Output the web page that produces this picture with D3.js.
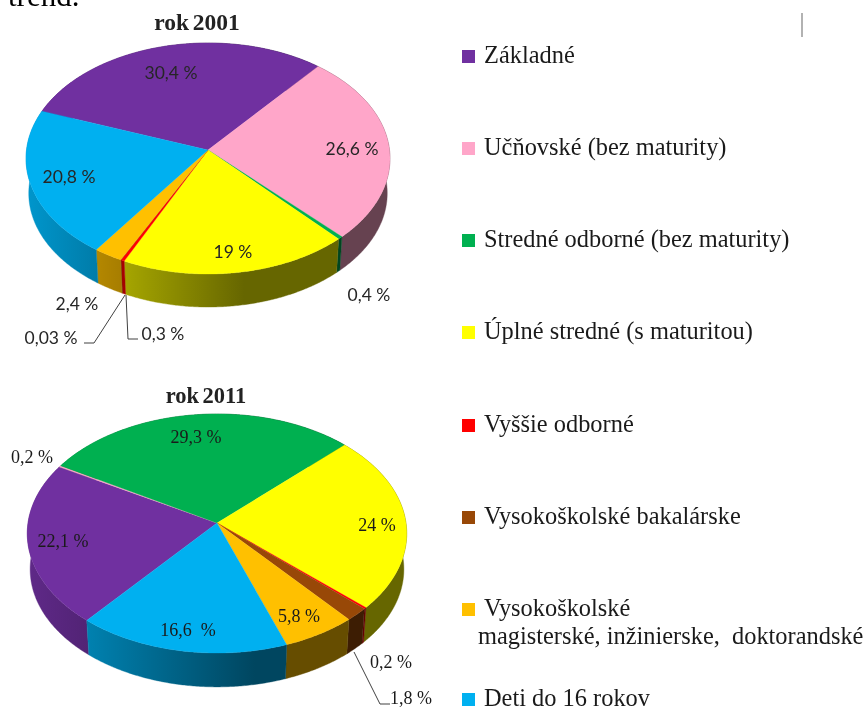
<!DOCTYPE html>
<html>
<head>
<meta charset="utf-8">
<script src="https://cdn.jsdelivr.net/npm/d3@7"></script>
<style>
    html, body { margin: 0; padding: 0; background: #fff; overflow: hidden; }
    text { white-space: pre; }
    svg { filter: blur(0.4px); }
</style>
</head>
<body>
<div id="chart"></div>
<script>
const categories = ['Základné', 'Učňovské (bez maturity)', 'Stredné odborné (bez maturity)', 'Úplné stredné (s maturitou)',
    'Vyššie odborné', 'Vysokoškolské bakalárske', 'Vysokoškolské', 'Deti do 16 rokov'];
const colors = ['#7030a0', '#ffa6c9', '#00b050', '#ffff00', '#ff0000', '#984807', '#ffc000', '#00b0f0'];

// order of the slices follows the legend, clockwise
const values2001 = [30.4, 26.6, 0.4, 19, 0.3, 0.03, 2.4, 20.8];
const labels2001 = ['30,4 %', '26,6 %', '0,4 %', '19 %', '0,3 %', '0,03 %', '2,4 %', '20,8 %'];
const labelPos2001 = [[171, 79], [352, 155], [369, 301], [233, 258], [163, 340], [51, 344], [77, 310], [69, 183]];

const values2011 = [22.1, 0.2, 29.3, 24, 0.2, 1.8, 5.8, 16.6];
const labels2011 = ['22,1 %', '0,2 %', '29,3 %', '24 %', '0,2 %', '1,8 %', '5,8 %', '16,6  %'];
const labelPos2011 = [[63, 547], [32, 463], [196, 443], [377, 531], [391, 668], [411, 704], [299, 622], [188, 636]];

const leaders2001 = [[[125, 295], [94, 343], [84, 343]], [[126, 295], [128, 339], [138, 339]]];
const leaders2011 = [[[354, 652], [380, 704], [390, 704]]];

const legendBaselines = [63, 155, 247, 339, 432, 524, 616, 706];

const width = 864;
const height = 709;
const serif = '"Liberation Serif", serif';
const DEG = Math.PI / 180;

const svg = d3.select('#chart').append('svg')
    .attr('width', width)
    .attr('height', height)
    .style('display', 'block');
const defs = svg.append('defs');

// line cut off at the top of the page, and the stray cursor mark
svg.append('text')
    .attr('x', 8).attr('y', 6)
    .style('font', `31px ${serif}`)
    .text('trend.');
svg.append('line')
    .attr('x1', 802).attr('x2', 802).attr('y1', 13).attr('y2', 37)
    .style('stroke', '#999').style('stroke-width', 1.5);

const drawPie = function (id, opt) {
    const g = svg.append('g');

    // perspective projection of the tilted disc: nearer part looks larger
    const project = function (angle, scale, drop) {
        const u = Math.sin(angle) * scale;
        const v = -Math.cos(angle) * scale;
        const w = 1 - opt.k * v;
        return [opt.cx + opt.b * u / w, opt.cy + opt.a * v / w + drop];
    };

    const pie = d3.pie().sort(null)
        .startAngle(opt.start * DEG)
        .endAngle(opt.start * DEG + 2 * Math.PI);
    const slices = pie(opt.values);

    const rim = function (d, scale, drop) {
        const step = DEG / 2;
        return d3.range(d.startAngle, d.endAngle, step).concat(d.endAngle)
            .map(a => project(a, scale, drop));
    };
    const line = d3.line().curve(d3.curveLinear);

    // walls take the slice colour, darkened from left to right
    const shade = d3.scaleLinear().domain([0, 1]).range([0.85, 0.4]);
    slices.forEach(function (d, i) {
        const c = d3.rgb(colors[i]);
        const grad = defs.append('linearGradient')
            .attr('id', `${id}-wall-${i}`)
            .attr('gradientUnits', 'userSpaceOnUse')
            .attr('x1', opt.cx - opt.b).attr('x2', opt.cx + opt.b * 0.2)
            .attr('y1', 0).attr('y2', 0);
        [0, 1].forEach(function (t) {
            const s = shade(t);
            grad.append('stop')
                .attr('offset', t)
                .attr('stop-color', d3.rgb(c.r * s, c.g * s, c.b * s).formatRgb());
        });
    });

    g.selectAll('path.wall')
        .data(slices)
        .enter().append('path')
        .attr('class', 'wall')
        .attr('d', d => line(rim(d, 1, 0).concat(rim(d, 0.985, opt.depth).reverse())) + 'Z')
        .style('fill', d => `url(#${id}-wall-${d.index})`)
        .style('stroke', d => `url(#${id}-wall-${d.index})`)
        .style('stroke-width', 0.4);

    g.selectAll('path.top')
        .data(slices)
        .enter().append('path')
        .attr('class', 'top')
        .attr('d', d => line([[opt.cx, opt.cy]].concat(rim(d, 1, 0))) + 'Z')
        .style('fill', d => colors[d.index])
        .style('stroke', d => colors[d.index])
        .style('stroke-width', 0.3);

    g.selectAll('path.leader')
        .data(opt.leaders)
        .enter().append('path')
        .attr('class', 'leader')
        .attr('d', d => line(d))
        .style('fill', 'none')
        .style('stroke', '#404040')
        .style('stroke-width', 1);

    g.append('text')
        .attr('x', opt.titleX).attr('y', opt.titleY)
        .attr('text-anchor', 'middle')
        .style('font', `bold ${opt.titleSize}px ${serif}`)
        .style('word-spacing', '-2px')
        .style('fill', '#222')
        .text(opt.title);

    g.selectAll('text.value')
        .data(opt.labels)
        .enter().append('text')
        .attr('class', 'value')
        .attr('x', (d, i) => opt.labelPos[i][0])
        .attr('y', (d, i) => opt.labelPos[i][1])
        .attr('text-anchor', 'middle')
        .style('font', opt.labelFont)
        .style('fill', opt.labelColor)
        .text(d => d);
};

drawPie('y2001', {
    title: 'rok 2001', titleX: 197, titleY: 30, titleSize: 23.5,
    values: values2001, labels: labels2001, labelPos: labelPos2001, leaders: leaders2001,
    cx: 208, cy: 150, a: 114.9, b: 181.5, k: 0.0736, depth: 35, start: -69.7,
    labelFont: '17.5px Lato, sans-serif', labelColor: '#262626'
});
drawPie('y2011', {
    title: 'rok 2011', titleX: 206, titleY: 403, titleSize: 22.5,
    values: values2011, labels: labels2011, labelPos: labelPos2011, leaders: leaders2011,
    cx: 217, cy: 523, a: 118.6, b: 189, k: 0.0879, depth: 36, start: -140,
    labelFont: `18px ${serif}`, labelColor: '#1a1a1a'
});

// legend
const legend = svg.append('g');
const rows = legend.selectAll('g')
    .data(categories)
    .enter().append('g')
    .attr('transform', (d, i) => `translate(0,${legendBaselines[i]})`);
rows.append('rect')
    .attr('x', 462).attr('y', -13)
    .attr('width', 13).attr('height', 13)
    .style('fill', (d, i) => colors[i]);
rows.append('text')
    .attr('x', 484).attr('y', 0)
    .style('font', `24.4px ${serif}`)
    .style('fill', '#1a1a1a')
    .text(d => d);
legend.append('text')
    .attr('x', 478).attr('y', legendBaselines[6] + 28)
    .style('font', `24.4px ${serif}`)
    .style('fill', '#1a1a1a')
    .text('magisterské, inžinierske,  doktorandské');
</script>
</body>
</html>
